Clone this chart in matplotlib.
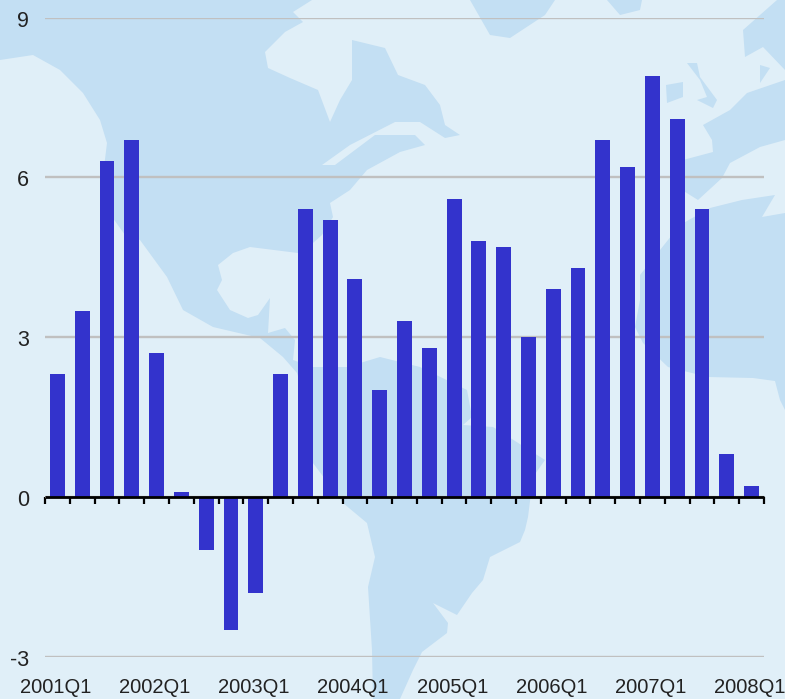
import matplotlib
matplotlib.use('Agg')
import matplotlib.pyplot as plt
from matplotlib.patches import Polygon
from matplotlib.transforms import ScaledTranslation

plt.rcParams['font.family'] = ['Liberation Sans', 'DejaVu Sans']

quarters = ['2001Q1', '2001Q2', '2001Q3', '2001Q4',
            '2002Q1', '2002Q2', '2002Q3', '2002Q4',
            '2003Q1', '2003Q2', '2003Q3', '2003Q4',
            '2004Q1', '2004Q2', '2004Q3', '2004Q4',
            '2005Q1', '2005Q2', '2005Q3', '2005Q4',
            '2006Q1', '2006Q2', '2006Q3', '2006Q4',
            '2007Q1', '2007Q2', '2007Q3', '2007Q4',
            '2008Q1']
growth = [2.3, 3.5, 6.3, 6.7,
          2.7, 0.1, -1.0, -2.5,
          -1.8, 2.3, 5.4, 5.2,
          4.1, 2.0, 3.3, 2.8,
          5.6, 4.8, 4.7, 3.0,
          3.9, 4.3, 6.7, 6.2,
          7.9, 7.1, 5.4, 0.8,
          0.2]
y_ticks = [-3, 0, 3, 6, 9]

# background world map, rough outlines in pixels of the picture
americas = [(0, 0), (312, 0), (293, 12), (303, 22), (285, 32), (265, 52), (268, 68), (290, 78),
            (318, 90), (330, 122), (340, 100), (352, 80), (352, 40), (385, 48), (398, 75),
            (425, 85), (440, 105), (445, 125), (460, 135), (445, 138), (420, 122), (395, 122),
            (350, 145), (322, 165), (335, 165), (375, 135), (415, 135), (425, 145), (400, 152),
            (367, 170), (350, 190), (330, 203), (333, 217), (322, 235), (305, 250), (298, 253),
            (250, 247), (233, 253), (218, 265), (222, 280), (217, 290), (230, 310), (248, 318),
            (258, 315), (270, 298), (268, 333), (285, 328), (295, 340), (293, 360), (313, 367),
            (347, 367), (380, 357), (420, 367), (467, 390), (472, 417), (463, 425), (493, 427),
            (545, 460), (533, 477), (528, 517), (525, 530), (520, 542), (490, 557), (483, 580),
            (472, 593), (457, 615), (433, 603), (448, 623), (447, 633), (422, 652), (413, 670),
            (400, 699), (373, 699), (372, 650), (368, 587), (375, 557), (367, 523), (343, 503),
            (313, 463), (313, 423), (297, 373), (283, 357), (260, 338), (213, 327), (183, 310),
            (167, 277), (140, 240), (125, 235), (100, 200), (107, 143), (100, 120), (83, 93),
            (60, 70), (33, 55), (0, 60)]
greenland = [(470, 0), (490, 35), (510, 38), (545, 15), (555, 0)]
iceland = [(607, 0), (620, 15), (640, 10), (642, 0)]
scandinavia = [(785, 0), (777, 0), (743, 30), (745, 57), (763, 47), (785, 70)]
baltic = [(760, 65), (770, 68), (760, 83)]
ireland = [(666, 85), (683, 82), (683, 97), (667, 103)]
britain = [(687, 63), (697, 63), (700, 77), (717, 100), (713, 108), (697, 100), (707, 97), (700, 80)]
europe = [(703, 125), (730, 110), (747, 93), (785, 80), (785, 140), (760, 147), (730, 163),
          (722, 178), (698, 200), (682, 190), (683, 160), (713, 152), (712, 140)]
africa = [(710, 208), (742, 200), (775, 195), (762, 217), (785, 213), (785, 410), (780, 400),
          (775, 381), (753, 378), (708, 377), (668, 367), (643, 343), (635, 327), (640, 300),
          (640, 275), (660, 250), (680, 225)]

W, H = 785, 699
fig = plt.figure(figsize=(W / 100, H / 100), dpi=100, facecolor='#e0eff8')

bg = fig.add_axes([0, 0, 1, 1], zorder=0)
bg.set_xlim(0, W)
bg.set_ylim(H, 0)
bg.axis('off')
for shape in [americas, greenland, iceland, scandinavia, baltic, ireland, britain, europe, africa]:
    bg.add_patch(Polygon(shape, closed=True, facecolor='#c3dff3', edgecolor='none'))

left, right, top, bottom = 45, 764, 17.7, 656.7
ax = fig.add_axes([left / W, 1 - bottom / H, (right - left) / W, (bottom - top) / H], zorder=1)
ax.patch.set_alpha(0)

x = list(range(len(quarters)))
ax.bar(x, growth, width=0.6, color='#3333cc', zorder=2)

ax.set_xlim(-0.5, len(quarters) - 0.5)
ax.set_ylim(-3, 9)
ax.set_yticks(y_ticks)
ax.set_yticklabels([str(t) for t in y_ticks], fontsize=15.5, color='#222222')
ax.tick_params(axis='y', length=0, pad=11.5)
ax.yaxis.grid(True, color='#c0c0c0', linewidth=1.7, zorder=1)
ax.set_axisbelow(True)

# digits sit about a pixel lower than plain centring
nudge = ScaledTranslation(0, -1 / 100, fig.dpi_scale_trans)
for label in ax.get_yticklabels():
    label.set_transform(label.get_transform() + nudge)

for side in ['top', 'left', 'right']:
    ax.spines[side].set_visible(False)
ax.spines['bottom'].set_position(('data', 0))
ax.spines['bottom'].set_linewidth(2)
ax.spines['bottom'].set_capstyle('butt')
ax.spines['bottom'].set_zorder(3)

ax.set_xticks([i - 0.5 for i in range(len(quarters) + 1)])
ax.set_xticklabels([])
ax.tick_params(axis='x', direction='out', length=5, width=1.6, color='black')

for i in x[::4]:
    ax.text(i - 0.07, -3.57, quarters[i], ha='center', va='center', fontsize=14.5,
            color='#222222', clip_on=False)

fig.savefig('out.png', dpi=100, facecolor=fig.get_facecolor())
